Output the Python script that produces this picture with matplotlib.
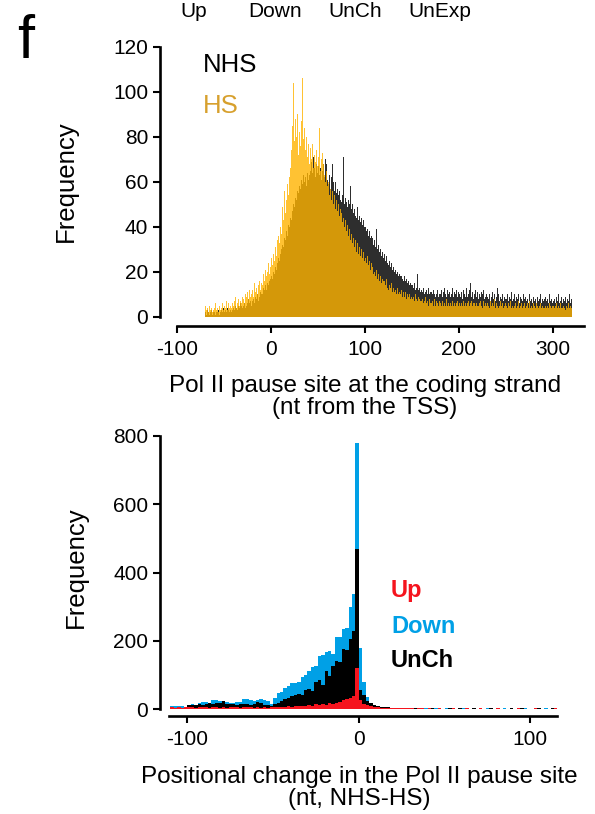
import matplotlib
matplotlib.use("Agg")
import matplotlib.pyplot as plt
import numpy as np

plt.rcParams.update({"font.family": ["Liberation Sans", "DejaVu Sans"],
                     "axes.unicode_minus": False})

W, H = 595, 814
BLACK, GOLD, GOLD_TXT = "#000000", "#FFB300", "#D7A02D"
BLUE, RED = "#00A0E6", "#F5141E"

# top panel: pause site per nt, bins start at -70
pause_start = -70
nhs = [
    2, 1, 3, 2, 1, 2, 3, 1, 2, 2,
    3, 1, 2, 2, 3, 1, 2, 3, 2, 4,
    2, 3, 2, 4, 3, 2, 3, 4, 2, 3,
    4, 3, 5, 4, 3, 5, 4, 6, 5, 4,
    5, 6, 4, 7, 5, 6, 8, 6, 7, 5,
    7, 8, 6, 9, 8, 10, 7, 9, 11, 10,
    11, 10, 13, 12, 14, 12, 15, 14, 16, 17,
    18, 17, 20, 19, 22, 21, 24, 23, 26, 25,
    28, 30, 32, 31, 35, 34, 38, 36, 41, 40,
    44, 43, 47, 46, 50, 49, 53, 52, 56, 55,
    58, 57, 61, 59, 63, 60, 62, 58, 64, 61,
    67, 63, 65, 69, 64, 71, 66, 62, 68, 64,
    67, 63, 66, 61, 65, 68, 62, 64, 70, 68,
    61, 59, 63, 57, 62, 68, 60, 56, 60, 55,
    57, 54, 56, 52, 55, 51, 54, 71, 50, 53,
    51, 49, 52, 50, 58, 48, 50, 46, 48, 45,
    47, 44, 49, 43, 45, 42, 44, 41, 43, 40,
    40, 38, 39, 36, 38, 35, 36, 33, 35, 32,
    34, 31, 39, 30, 32, 29, 30, 27, 29, 26,
    28, 25, 27, 24, 26, 23, 25, 22, 24, 21,
    22, 20, 21, 19, 20, 18, 19, 18, 18, 17,
    19, 16, 18, 16, 17, 15, 16, 14, 15, 14,
    14, 13, 15, 12, 13, 19, 12, 11, 13, 11,
    12, 11, 13, 10, 11, 12, 10, 13, 10, 11,
    11, 10, 12, 10, 11, 9, 10, 12, 9, 10,
    10, 12, 9, 11, 13, 10, 9, 12, 10, 11,
    9, 12, 10, 13, 9, 11, 10, 12, 9, 11,
    10, 9, 11, 8, 12, 10, 9, 11, 13, 9,
    10, 12, 15, 9, 11, 8, 10, 12, 9, 11,
    8, 10, 9, 11, 7, 10, 12, 8, 9, 10,
    9, 8, 10, 7, 9, 11, 8, 10, 7, 9,
    13, 8, 10, 7, 9, 8, 10, 7, 9, 8,
    8, 10, 7, 9, 8, 11, 7, 9, 8, 10,
    7, 9, 8, 10, 6, 9, 8, 7, 10, 8,
    9, 7, 8, 6, 9, 10, 7, 8, 6, 9,
    7, 8, 6, 9, 7, 8, 10, 6, 8, 7,
    8, 6, 9, 7, 8, 6, 10, 7, 8, 6,
    7, 8, 6, 9, 7, 10, 6, 8, 7, 9,
    6, 8, 7, 9, 6, 8, 7, 10, 6, 8,
]
hs = [
    5, 3, 4, 2, 5, 3, 4, 2, 3, 4,
    2, 6, 3, 4, 2, 5, 3, 4, 6, 3,
    5, 4, 7, 3, 6, 4, 5, 8, 4, 6,
    5, 7, 9, 4, 6, 8, 5, 7, 6, 9,
    8, 6, 10, 7, 9, 11, 8, 12, 9, 10,
    12, 9, 15, 11, 13, 10, 14, 16, 12, 15,
    17, 14, 19, 16, 21, 18, 20, 24, 19, 22,
    26, 23, 28, 25, 31, 27, 34, 29, 36, 33,
    40, 37, 49, 43, 56, 46, 52, 59, 54, 62,
    66, 74, 85, 70, 104, 78, 88, 80, 90, 72,
    82, 76, 87, 106, 79, 84, 74, 80, 71, 77,
    73, 68, 75, 70, 77, 66, 72, 69, 74, 67,
    71, 84, 65, 70, 73, 68, 63, 67, 60, 65,
    58, 60, 54, 57, 52, 56, 50, 54, 48, 52,
    47, 50, 45, 48, 43, 46, 42, 44, 40, 43,
    38, 41, 36, 39, 34, 37, 33, 35, 31, 34,
    32, 29, 33, 28, 31, 27, 30, 26, 29, 25,
    26, 24, 27, 23, 25, 21, 24, 20, 22, 19,
    20, 18, 21, 17, 19, 16, 18, 15, 17, 16,
    16, 14, 17, 13, 15, 12, 14, 13, 15, 11,
    13, 11, 12, 10, 13, 10, 11, 10, 12, 9,
    10, 11, 9, 11, 8, 10, 9, 10, 8, 9,
    8, 9, 7, 10, 8, 7, 9, 6, 8, 7,
    7, 8, 6, 7, 9, 6, 7, 5, 8, 6,
    6, 7, 5, 8, 6, 5, 7, 6, 5, 7,
    6, 5, 7, 5, 6, 5, 8, 5, 6, 5,
    6, 7, 5, 7, 5, 6, 5, 6, 7, 5,
    6, 5, 6, 5, 7, 5, 6, 6, 5, 6,
    7, 5, 6, 7, 5, 6, 6, 5, 6, 5,
    5, 6, 7, 5, 6, 4, 7, 5, 6, 5,
    6, 5, 4, 7, 5, 6, 5, 8, 4, 6,
    5, 6, 4, 5, 7, 5, 6, 4, 5, 6,
    5, 4, 6, 5, 7, 4, 5, 6, 4, 5,
    6, 4, 5, 7, 4, 5, 6, 4, 5, 6,
    4, 5, 6, 4, 5, 7, 4, 5, 4, 6,
    5, 4, 6, 5, 4, 5, 6, 4, 5, 4,
    4, 6, 5, 4, 5, 4, 6, 5, 4, 5,
    5, 4, 5, 6, 4, 5, 4, 5, 6, 4,
    4, 5, 4, 3, 5, 4, 6, 4, 5, 4,
]

# bottom panel: shift NHS-HS, 2-nt bins starting at -110
shift_start, shift_bin = -110, 2
down = [
    10, 9, 9, 8, 7, 12, 14, 13, 17, 20,
    21, 19, 26, 25, 22, 23, 20, 19, 18, 21,
    20, 28, 29, 27, 23, 26, 28, 25, 22, 15,
    31, 46, 50, 63, 66, 77, 75, 78, 95, 100,
    110, 124, 126, 155, 158, 168, 171, 160, 210, 212,
    233, 236, 300, 336, 780, 178, 80, 36, 16, 11,
    8, 6, 5, 5, 4, 4, 3, 3, 3, 2,
    3, 2, 2, 3, 2, 2, 1, 2, 2, 1,
    2, 1, 2, 1, 1, 2, 1, 1, 2, 1,
    1, 1, 2, 1, 1, 1, 1, 2, 1, 1,
    1, 1, 1, 2, 1, 1, 1, 1, 1, 2,
    1, 1, 1,
]
unch = [
    5, 4, 5, 4, 6, 12, 11, 13, 14, 12,
    15, 17, 16, 18, 17, 23, 15, 14, 15, 13,
    14, 15, 14, 13, 14, 20, 19, 13, 12, 10,
    16, 18, 24, 28, 32, 38, 42, 44, 40, 55,
    58, 52, 78, 85, 70, 112, 98, 125, 140, 138,
    175, 172, 205, 228, 470, 55, 42, 22, 17, 12,
    9, 7, 6, 5, 4, 4, 3, 3, 2, 3,
    2, 2, 3, 2, 1, 2, 2, 1, 2, 1,
    1, 2, 1, 1, 2, 1, 1, 1, 2, 1,
    1, 1, 1, 2, 1, 1, 1, 1, 1, 2,
    1, 1, 2, 1, 1, 1, 1, 2, 1, 1,
    1, 2, 1,
]
up = [
    5, 4, 5, 4, 5, 6, 5, 4, 5, 6,
    5, 4, 6, 5, 4, 5, 4, 5, 6, 5,
    4, 5, 6, 5, 4, 5, 4, 5, 4, 5,
    6, 5, 7, 6, 8, 7, 9, 8, 10, 9,
    13, 10, 14, 12, 16, 13, 17, 14, 18, 21,
    26, 28, 32, 37, 120, 26, 15, 12, 8, 6,
    5, 4, 3, 3, 2, 3, 2, 2, 3, 2,
    2, 1, 2, 2, 1, 2, 1, 1, 2, 1,
    1, 1, 2, 1, 1, 1, 2, 1, 1, 1,
    2, 1, 1, 1, 1, 2, 1, 1, 1, 1,
    1, 2, 1, 1, 1, 1, 2, 1, 1, 1,
    1, 1, 2,
]

top_yticks = [0, 20, 40, 60, 80, 100, 120]
top_xticks = [-100, 0, 100, 200, 300]
bot_yticks = [0, 200, 400, 600, 800]
bot_xticks = [-100, 0, 100]
prev_labels = [("Up", 194), ("Down", 275), ("UnCh", 355), ("UnExp", 440)]


def fx(px):
    return px / W


def fy(py):
    return 1 - py / H


def style(ax, xb, yb):
    ax.spines[["top", "right"]].set_visible(False)
    for s in ("left", "bottom"):
        ax.spines[s].set_linewidth(1.9)
    ax.spines["bottom"].set_bounds(*xb)
    ax.spines["left"].set_bounds(*yb)
    ax.tick_params(length=5, width=1.5, labelsize=15)
    ax.tick_params(axis="x", pad=5)
    ax.tick_params(axis="y", pad=3.5)


fig = plt.figure(figsize=(W / 100, H / 100), dpi=100)

# top histogram
ax1 = fig.add_axes([fx(160), fy(326), fx(584) - fx(160), (326 - 47) / H])
x1 = np.arange(len(nhs)) + pause_start
ax1.bar(x1, nhs, width=1, align="edge", color=BLACK, alpha=0.82, linewidth=0)
ax1.bar(x1, hs, width=1, align="edge", color=GOLD, alpha=0.8, linewidth=0)
ax1.set_xlim(-118, 333)
ax1.set_ylim(-4, 120)
ax1.set_xticks(top_xticks)
ax1.set_yticks(top_yticks)
style(ax1, (-100, 333), (0, 120))
ax1.set_ylabel("Frequency", fontsize=18.5)
ax1.yaxis.set_label_coords(-0.193, 0.52)
ax1.text(0.1, 0.91, "NHS", transform=ax1.transAxes, fontsize=18.5, color=BLACK, va="baseline")
ax1.text(0.1, 0.765, "HS", transform=ax1.transAxes, fontsize=18.5, color=GOLD_TXT, va="baseline")
fig.text(fx(365), fy(414), "Pol II pause site at the coding strand\n(nt from the TSS)",
         ha="center", va="baseline", fontsize=17.5, linespacing=1.0)

# bottom histogram
ax2 = fig.add_axes([fx(160), fy(716), fx(557) - fx(160), (716 - 436) / H])
x2 = np.arange(len(down)) * shift_bin + shift_start
ax2.bar(x2, down, width=shift_bin, align="edge", color=BLUE, linewidth=0)
ax2.bar(x2, unch, width=shift_bin, align="edge", color=BLACK, linewidth=0)
ax2.bar(x2, up, width=shift_bin, align="edge", color=RED, linewidth=0)
ax2.set_xlim(-116, 115.5)
ax2.set_ylim(-20.5, 800)
ax2.set_xticks(bot_xticks)
ax2.set_yticks(bot_yticks)
style(ax2, (-110.5, 115.5), (0, 800))
ax2.set_ylabel("Frequency", fontsize=18.5)
ax2.yaxis.set_label_coords(-0.181, 0.532)
for lab, col, yb in [("Up", RED, 597), ("Down", BLUE, 633), ("UnCh", BLACK, 667)]:
    fig.text(fx(391), fy(yb), lab, color=col, fontsize=17, fontweight="bold", va="baseline")
fig.text(fx(359), fy(805), "Positional change in the Pol II pause site\n(nt, NHS-HS)",
         ha="center", va="baseline", fontsize=17.5, linespacing=1.0)

# panel letter and leftover labels of the panel above
fig.text(fx(17), fy(58), "f", fontsize=44, va="baseline")
for lab, xc in prev_labels:
    fig.text(fx(xc), fy(17), lab, fontsize=15, ha="center", va="baseline")

fig.savefig("out.png", dpi=100)
